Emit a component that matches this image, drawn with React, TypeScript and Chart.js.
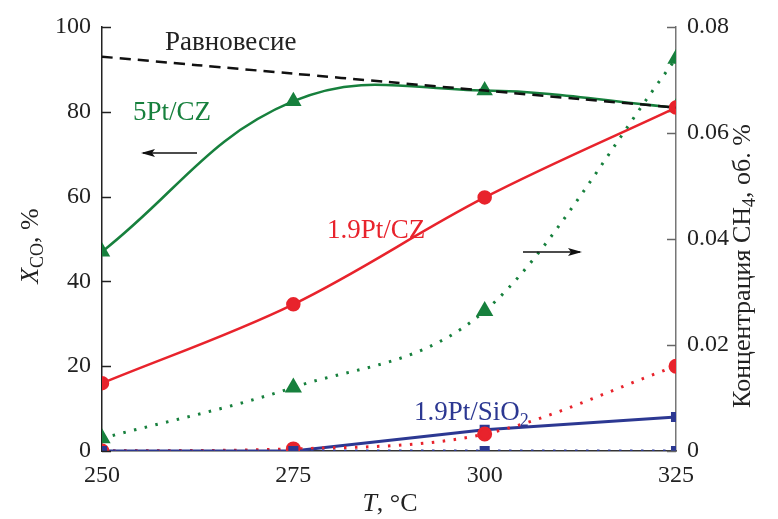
import React, { useEffect, useRef } from "react";
import { Chart, registerables } from "chart.js";

Chart.register(...registerables);

const temps = [250, 275, 300, 325];
const xTicks = [250, 275, 300, 325];
const eqTemps = [250, 262.5, 275, 287.5, 300, 312.5, 325];
const eqX = [93, 91, 89, 87, 85, 83, 81];
const x5PtCZ = [47, 82.5, 85, 81];
const x19PtCZ = [16, 34.6, 59.8, 81];
const x19PtSiO2 = [0, 0, 5, 8];
const ch4_5PtCZ = [0.0024, 0.012, 0.0264, 0.074];
const ch4_19PtCZ = [0, 0.0004, 0.0032, 0.016];
const ch4_19PtSiO2 = [0, 0, 0, 0];

const GREEN = "#17803d";
const RED = "#e8232c";
const BLUE = "#2c3892";
const SERIF = "'Liberation Serif', 'DejaVu Serif', serif";

const pts = (xs: number[], ys: number[]) => xs.map((x, i) => ({ x, y: ys[i] }));

const decorPlugin = {
  id: "decor",
  afterDraw(chart: any) {
    const ctx = chart.ctx as CanvasRenderingContext2D;
    const { left, right } = chart.chartArea;
    const yL = chart.scales.y;
    const yR = chart.scales.y2;
    ctx.save();
    // inward ticks
    ctx.lineWidth = 1.5;
    ctx.strokeStyle = "#222";
    [0, 20, 40, 60, 80, 100].forEach((v) => {
      const py = Math.round(yL.getPixelForValue(v)) + 0.5;
      ctx.beginPath();
      ctx.moveTo(left, py);
      ctx.lineTo(left + 9, py);
      ctx.stroke();
    });
    ctx.strokeStyle = "#666";
    [0, 0.02, 0.04, 0.06, 0.08].forEach((v) => {
      const py = Math.round(yR.getPixelForValue(v)) + 0.5;
      ctx.beginPath();
      ctx.moveTo(right, py);
      ctx.lineTo(right - 9, py);
      ctx.stroke();
    });

    // texts
    ctx.textBaseline = "middle";
    ctx.textAlign = "left";
    ctx.font = `27px ${SERIF}`;
    ctx.fillStyle = "#222";
    ctx.fillText("Равновесие", 165, 43);
    ctx.fillStyle = GREEN;
    ctx.fillText("5Pt/CZ", 133, 113);
    ctx.fillStyle = RED;
    ctx.fillText("1.9Pt/CZ", 327, 231);
    ctx.fillStyle = BLUE;
    ctx.fillText("1.9Pt/SiO", 414, 413);
    const w = ctx.measureText("1.9Pt/SiO").width;
    ctx.font = `18px ${SERIF}`;
    ctx.fillText("2", 414 + w, 421);

    // arrows
    const arrow = (x1: number, x2: number, y: number) => {
      ctx.strokeStyle = "#111";
      ctx.fillStyle = "#111";
      ctx.lineWidth = 1.5;
      ctx.beginPath();
      ctx.moveTo(x1, y);
      ctx.lineTo(x2, y);
      ctx.stroke();
      const d = x2 > x1 ? 1 : -1;
      ctx.beginPath();
      ctx.moveTo(x2 + d * 2, y);
      ctx.lineTo(x2 - d * 12, y - 4);
      ctx.lineTo(x2 - d * 9, y);
      ctx.lineTo(x2 - d * 12, y + 4);
      ctx.closePath();
      ctx.fill();
    };
    arrow(197, 143, 153);
    arrow(523, 580, 252);

    // axis titles
    const drawParts = (parts: { t: string; f: string; dy: number }[], cx: number, cy: number, rot: number) => {
      ctx.save();
      ctx.translate(cx, cy);
      ctx.rotate(rot);
      let total = 0;
      parts.forEach((p) => {
        ctx.font = p.f;
        total += ctx.measureText(p.t).width;
      });
      let x = -total / 2;
      ctx.fillStyle = "#222";
      ctx.textAlign = "left";
      ctx.textBaseline = "middle";
      parts.forEach((p) => {
        ctx.font = p.f;
        ctx.fillText(p.t, x, p.dy);
        x += ctx.measureText(p.t).width;
      });
      ctx.restore();
    };
    drawParts(
      [
        { t: "X", f: `italic 26px ${SERIF}`, dy: 0 },
        { t: "CO", f: `18px ${SERIF}`, dy: 7 },
        { t: ", %", f: `26px ${SERIF}`, dy: 0 },
      ],
      31,
      246,
      -Math.PI / 2
    );
    drawParts(
      [
        { t: "Концентрация CH", f: `26px ${SERIF}`, dy: 0 },
        { t: "4", f: `18px ${SERIF}`, dy: 7 },
        { t: ", об. %", f: `26px ${SERIF}`, dy: 0 },
      ],
      743,
      266,
      -Math.PI / 2
    );
    drawParts(
      [
        { t: "T", f: `italic 26px ${SERIF}`, dy: 0 },
        { t: ", °C", f: `26px ${SERIF}`, dy: 0 },
      ],
      390,
      504,
      0
    );
    ctx.restore();
  },
};

export default function App() {
  const ref = useRef<HTMLCanvasElement | null>(null);
  useEffect(() => {
    document.body.style.margin = "0";
    const canvas = ref.current!;
    const dotted = [2.5, 8.5];
    const chart = new Chart(canvas, {
      type: "line",
      data: {
        datasets: [
          {
            label: "CH4 1.9Pt/SiO2",
            data: pts(temps, ch4_19PtSiO2),
            yAxisID: "y2",
            borderColor: BLUE,
            backgroundColor: BLUE,
            borderWidth: 3,
            borderDash: dotted,
            pointStyle: "rect",
            pointRadius: 5,
            tension: 0,
            clip: 0,
          },
          {
            label: "CH4 1.9Pt/CZ",
            data: pts(temps, ch4_19PtCZ),
            yAxisID: "y2",
            borderColor: RED,
            backgroundColor: RED,
            borderWidth: 3,
            borderDash: dotted,
            pointStyle: "circle",
            pointRadius: 6,
            cubicInterpolationMode: "monotone",
            clip: 0,
          },
          {
            label: "CH4 5Pt/CZ",
            data: pts(temps, ch4_5PtCZ),
            yAxisID: "y2",
            borderColor: GREEN,
            backgroundColor: GREEN,
            borderWidth: 3,
            borderDash: dotted,
            pointStyle: "triangle",
            pointRadius: 7,
            cubicInterpolationMode: "monotone",
            clip: 0,
          },
          {
            label: "Равновесие",
            data: pts(eqTemps, eqX),
            yAxisID: "y",
            borderColor: "#111",
            borderWidth: 2.5,
            borderDash: [11, 7],
            pointRadius: 0,
            tension: 0.3,
            clip: 0,
          },
          {
            label: "1.9Pt/CZ",
            data: pts(temps, x19PtCZ),
            yAxisID: "y",
            borderColor: RED,
            backgroundColor: RED,
            borderWidth: 2.5,
            pointStyle: "circle",
            pointRadius: 6,
            tension: 0.35,
            clip: 0,
          },
          {
            label: "1.9Pt/SiO2",
            data: pts(temps, x19PtSiO2),
            yAxisID: "y",
            borderColor: BLUE,
            backgroundColor: BLUE,
            borderWidth: 3,
            pointStyle: "rect",
            pointRadius: 5,
            tension: 0,
            clip: 0,
          },
          {
            label: "5Pt/CZ",
            data: pts(temps, x5PtCZ),
            yAxisID: "y",
            borderColor: GREEN,
            backgroundColor: GREEN,
            borderWidth: 2.5,
            pointStyle: "triangle",
            pointRadius: 7,
            tension: 0.4,
            clip: 0,
          },
        ],
      },
      options: {
        animation: false,
        responsive: false,
        maintainAspectRatio: false,
        layout: { padding: { top: 27, left: 0, right: 0, bottom: 0 } },
        plugins: { legend: { display: false }, tooltip: { enabled: false } },
        scales: {
          x: {
            type: "linear",
            min: 250,
            max: 325,
            afterBuildTicks: (s: any) => {
              s.ticks = xTicks.map((v) => ({ value: v }));
            },
            afterFit: (s: any) => {
              s.height = 68;
            },
            grid: { display: true, drawOnChartArea: false, drawTicks: false },
            border: { display: true, color: "#333", width: 1.5 },
            ticks: {
              padding: 10,
              color: "#222",
              font: { family: SERIF, size: 24 },
              maxRotation: 0,
            },
          },
          y: {
            type: "linear",
            position: "left",
            min: 0,
            max: 100,
            ticks: {
              stepSize: 20,
              padding: 11,
              color: "#222",
              font: { family: SERIF, size: 24 },
            },
            afterFit: (s: any) => {
              s.width = 102;
            },
            grid: { display: true, drawOnChartArea: false, drawTicks: false },
            border: { display: true, color: "#222", width: 1.5 },
          },
          y2: {
            type: "linear",
            position: "right",
            min: 0,
            max: 0.08,
            ticks: {
              stepSize: 0.02,
              padding: 11,
              color: "#222",
              font: { family: SERIF, size: 24 },
              callback: (v: any) => (Number(v) === 0 ? "0" : Number(v).toFixed(2)),
            },
            afterFit: (s: any) => {
              s.width = 102;
            },
            grid: { display: true, drawOnChartArea: false, drawTicks: false },
            border: { display: true, color: "#777", width: 1.5 },
          },
        },
      } as any,
      plugins: [decorPlugin],
    });
    return () => chart.destroy();
  }, []);
  return <canvas ref={ref} width={778} height={519} style={{ display: "block" }} />;
}
